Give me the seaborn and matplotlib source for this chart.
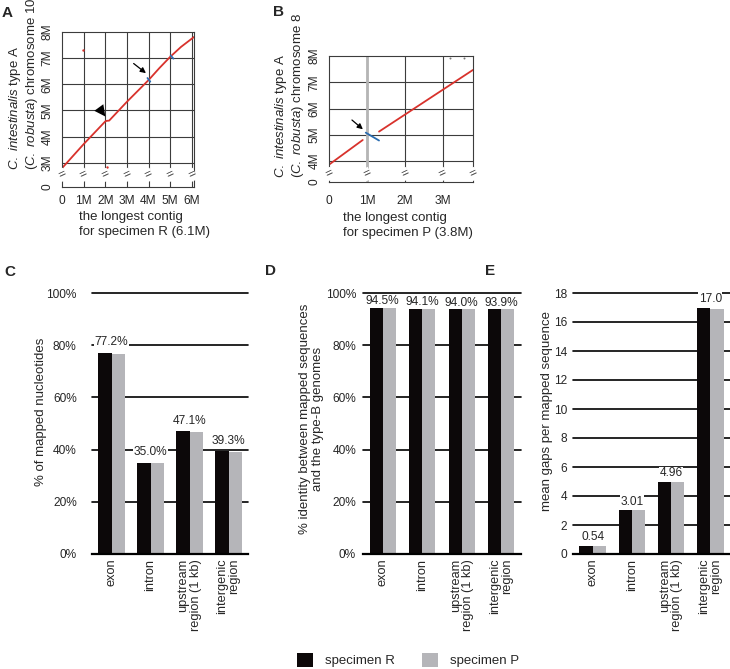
import numpy as np
import pandas as pd
import matplotlib.pyplot as plt
import seaborn as sns

sns.set_style("white")
plt.rcParams["font.family"] = ["Liberation Sans", "DejaVu Sans"]
plt.rcParams["mathtext.fontset"] = "custom"
plt.rcParams["mathtext.rm"] = "Liberation Sans"
plt.rcParams["mathtext.it"] = "Liberation Sans:italic"

# A: longest contig of specimen R vs chromosome 10 (Mb)
a_contig = [0.0, 1.0, 2.0, 2.06, 2.18, 3.0, 4.0, 4.5, 5.0, 5.5, 6.1]
a_chrom = [2.79, 3.71, 4.58, 4.60, 4.61, 5.33, 6.16, 6.62, 7.05, 7.43, 7.81]
a_inv_contig = [3.95, 4.08, 5.02, 5.15]
a_inv_chrom = [6.24, 6.10, 7.10, 6.98]
a_inv_seg = [1, 1, 2, 2]
a_dot_contig = [0.98, 2.06]
a_dot_chrom = [7.33, 2.82]

# B: longest contig of specimen P vs chromosome 8 (Mb)
b_contig = [0.0, 0.89, 1.32, 3.8]
b_chrom = [3.86, 4.80, 5.12, 7.47]
b_seg = [1, 1, 2, 2]
b_inv_contig = [0.97, 1.32]
b_inv_chrom = [5.08, 4.78]
b_dot_contig = [3.2, 3.55]
b_dot_chrom = [7.92, 7.92]

# C-E: per region, specimen R / specimen P
regions = ["exon", "intron", "upstream\nregion (1 kb)", "intergenic\nregion"]
specimens = ["specimen R", "specimen P"]
mapped_r = [77.2, 35.0, 47.1, 39.3]
mapped_p = [76.5, 34.8, 46.8, 39.2]
mapped_labels = ["77.2%", "35.0%", "47.1%", "39.3%"]
ident_r = [94.5, 94.1, 94.0, 93.9]
ident_p = [94.3, 94.0, 93.9, 93.8]
ident_labels = ["94.5%", "94.1%", "94.0%", "93.9%"]
gaps_r = [0.54, 3.01, 4.96, 17.0]
gaps_p = [0.54, 3.01, 4.96, 16.9]
gaps_labels = ["0.54", "3.01", "4.96", "17.0"]

RED = "#d8322c"
BLUE = "#2b6cb0"
GRID = "#3c3c3c"
palette = {"specimen R": "#0c0809", "specimen P": "#b5b5b9"}

W, H = 730, 669
fig = plt.figure(figsize=(W / 100, H / 100), dpi=100)


def px_axes(left, top, right, bottom):
    return fig.add_axes([left / W, 1 - bottom / H, (right - left) / W, (bottom - top) / H])


def setup_dotplot(ax, xmax, xticks, xlabels, ybottom, ybreak, yticks, ylabels, break_x, xpad):
    ax.set_xlim(0, xmax)
    ax.set_ylim(ybottom, 8)
    for x in xticks[1:]:
        ax.axvline(x, color=GRID, lw=0.8, zorder=0)
    for y in yticks[1:-1]:
        ax.axhline(y, color=GRID, lw=0.8, zorder=0)
    for s in ax.spines.values():
        s.set_visible(True)
        s.set_color(GRID)
        s.set_linewidth(0.8)
    ax.set_xticks(xticks)
    ax.set_xticklabels(xlabels)
    ax.set_yticks(yticks)
    ax.set_yticklabels(ylabels, rotation=90, va="center")
    ax.tick_params(axis="x", length=0, pad=xpad, labelsize=8.6)
    ax.tick_params(axis="y", length=0, pad=6, labelsize=8.6)
    for x in break_x:
        ax.text(x, ybreak, "=", rotation=25, ha="center", va="center", fontsize=9,
                color=GRID, zorder=3, clip_on=False,
                bbox=dict(fc="white", ec="none", pad=0.2))


# ---- panel A
axA = px_axes(62, 32, 194, 187)
setup_dotplot(axA, 6.1, [0, 1, 2, 3, 4, 5, 6], ["0", "1M", "2M", "3M", "4M", "5M", "6M"],
              2.07, 2.53, [2.07, 3, 4, 5, 6, 7, 8], ["0", "3M", "4M", "5M", "6M", "7M", "8M"],
              [0, 1, 2, 3, 4, 5, 6], 6)
sns.lineplot(x=a_contig, y=a_chrom, color=RED, lw=1.3, sort=False, estimator=None, ax=axA)
sns.lineplot(x=a_inv_contig, y=a_inv_chrom, units=a_inv_seg, estimator=None, sort=False,
             color=BLUE, lw=1.3, ax=axA)
sns.scatterplot(x=a_dot_contig, y=a_dot_chrom, color=RED, s=3, linewidth=0, ax=axA)
axA.annotate("", xy=(3.98, 6.36), xytext=(3.21, 6.86),
             arrowprops=dict(arrowstyle="-|>", color="black", lw=0.9, mutation_scale=8))
axA.annotate("", xy=(2.08, 4.68), xytext=(1.86, 4.93),
             arrowprops=dict(arrowstyle="-|>,head_length=0.8,head_width=0.4", color="black",
                             lw=0.01, mutation_scale=10))
axA.set_ylabel("$\\mathit{C.\\ intestinalis}$ type A\n($\\mathit{C.\\ robusta}$) chromosome 10",
               fontsize=9.5, ha="left", multialignment="left", linespacing=1.1)
axA.yaxis.set_label_coords(-0.165, 0.11)
axA.set_xlabel("the longest contig\nfor specimen R (6.1M)", fontsize=9.5, ha="left",
               multialignment="left", linespacing=1.3)
axA.xaxis.set_label_coords(0.13, -0.155)

# ---- panel B
axB = px_axes(329, 56, 473, 182)
setup_dotplot(axB, 3.8, [0, 1, 2, 3], ["0", "1M", "2M", "3M"],
              3.2, 3.5, [3.2, 4, 5, 6, 7, 8], ["0", "4M", "5M", "6M", "7M", "8M"],
              [0, 1, 2, 3, 3.8], 9)
axB.axvline(1, color="#b5b5b5", lw=2.0, zorder=0.5)
sns.lineplot(x=b_contig, y=b_chrom, units=b_seg, estimator=None, sort=False,
             color=RED, lw=1.3, ax=axB)
sns.lineplot(x=b_inv_contig, y=b_inv_chrom, color=BLUE, lw=1.3, sort=False, estimator=None, ax=axB)
sns.scatterplot(x=b_dot_contig, y=b_dot_chrom, color="#777777", s=2, linewidth=0, ax=axB)
axB.annotate("", xy=(0.95, 5.14), xytext=(0.55, 5.63),
             arrowprops=dict(arrowstyle="-|>", color="black", lw=0.9, mutation_scale=8))
axB.set_ylabel("$\\mathit{C.\\ intestinalis}$ type A\n($\\mathit{C.\\ robusta}$) chromosome 8",
               fontsize=9.5, ha="left", multialignment="left", linespacing=1.1)
axB.yaxis.set_label_coords(-0.16, 0.03)
axB.set_xlabel("the longest contig\nfor specimen P (3.8M)", fontsize=9.5, ha="left",
               multialignment="left", linespacing=1.3)
axB.xaxis.set_label_coords(0.097, -0.238)


# ---- bar panels
def bar_panel(ax, r_vals, p_vals, labels, yticks, yticklabels, ylabel, ypad, lab_xy,
              lab_off, legend=False):
    df = pd.DataFrame({
        "region": regions * 2,
        "specimen": [specimens[0]] * 4 + [specimens[1]] * 4,
        "value": list(r_vals) + list(p_vals),
    })
    sns.barplot(data=df, x="region", y="value", hue="specimen", order=regions,
                hue_order=specimens, palette=palette, width=0.67, saturation=1,
                errorbar=None, linewidth=0, ax=ax, legend=legend, zorder=2)
    ax.set_xlim(-0.5, 3.5)
    ax.set_ylim(yticks[0], yticks[-1])
    for y in yticks[1:]:
        ax.axhline(y, color="black", lw=1.2, zorder=0, clip_on=False)
    for name, s in ax.spines.items():
        s.set_visible(name == "bottom")
    ax.spines["bottom"].set_color("black")
    ax.spines["bottom"].set_linewidth(1.6)
    ax.spines["bottom"].set_zorder(3)
    ax.set_yticks(yticks)
    ax.set_yticklabels(yticklabels)
    ax.tick_params(axis="y", length=0, pad=ypad, labelsize=8.6)
    ax.set_xticks(range(len(regions)))
    ax.set_xticklabels(regions, rotation=90, ha="center", va="top",
                       multialignment="right", linespacing=1.0)
    ax.tick_params(axis="x", length=0, pad=3.5, labelsize=9.2)
    for i, (r, p, t) in enumerate(zip(r_vals, p_vals, labels)):
        ax.annotate(t, (i, max(r, p)), xytext=(0, lab_off), textcoords="offset points",
                    ha="center", va="bottom", fontsize=8.6, zorder=4,
                    bbox=dict(fc="white", ec="none", pad=0.3))
    ax.set_xlabel("")
    ax.set_ylabel(ylabel, fontsize=9.5, multialignment="center", linespacing=1.1)
    ax.yaxis.set_label_coords(*lab_xy)


axC = px_axes(92, 293, 248, 554)
bar_panel(axC, mapped_r, mapped_p, mapped_labels, [0, 20, 40, 60, 80, 100],
          ["0%", "20%", "40%", "60%", "80%", "100%"], "% of mapped nucleotides", 11,
          (-0.29, 0.545), 3, legend=True)
handles, labels = axC.get_legend_handles_labels()
axC.get_legend().remove()

axD = px_axes(363, 293, 521, 554)
bar_panel(axD, ident_r, ident_p, ident_labels, [0, 20, 40, 60, 80, 100],
          ["0%", "20%", "40%", "60%", "80%", "100%"],
          "% identity between mapped sequences\nand the type-B genomes", 5, (-0.25, 0.517), 0)

axE = px_axes(573, 293, 730, 554)
bar_panel(axE, gaps_r, gaps_p, gaps_labels, list(range(0, 20, 2)),
          [str(v) for v in range(0, 20, 2)], "mean gaps per mapped sequence", 4.3,
          (-0.13, 0.548), 2)

fig.legend(handles, labels, loc="center", bbox_to_anchor=(408 / W, 1 - 660 / H), ncol=2,
           frameon=False, fontsize=9.5, handlelength=1.27, handleheight=1.35,
           handletextpad=0.9, columnspacing=2.0)

# panel letters
for letter, x, y in [("A", 7, 13), ("B", 279, 12), ("C", 10, 272), ("D", 270, 271), ("E", 490, 271)]:
    fig.text(x / W, 1 - y / H, letter, fontsize=11, fontweight="bold", ha="center", va="center")

fig.savefig("out.png", dpi=100)
